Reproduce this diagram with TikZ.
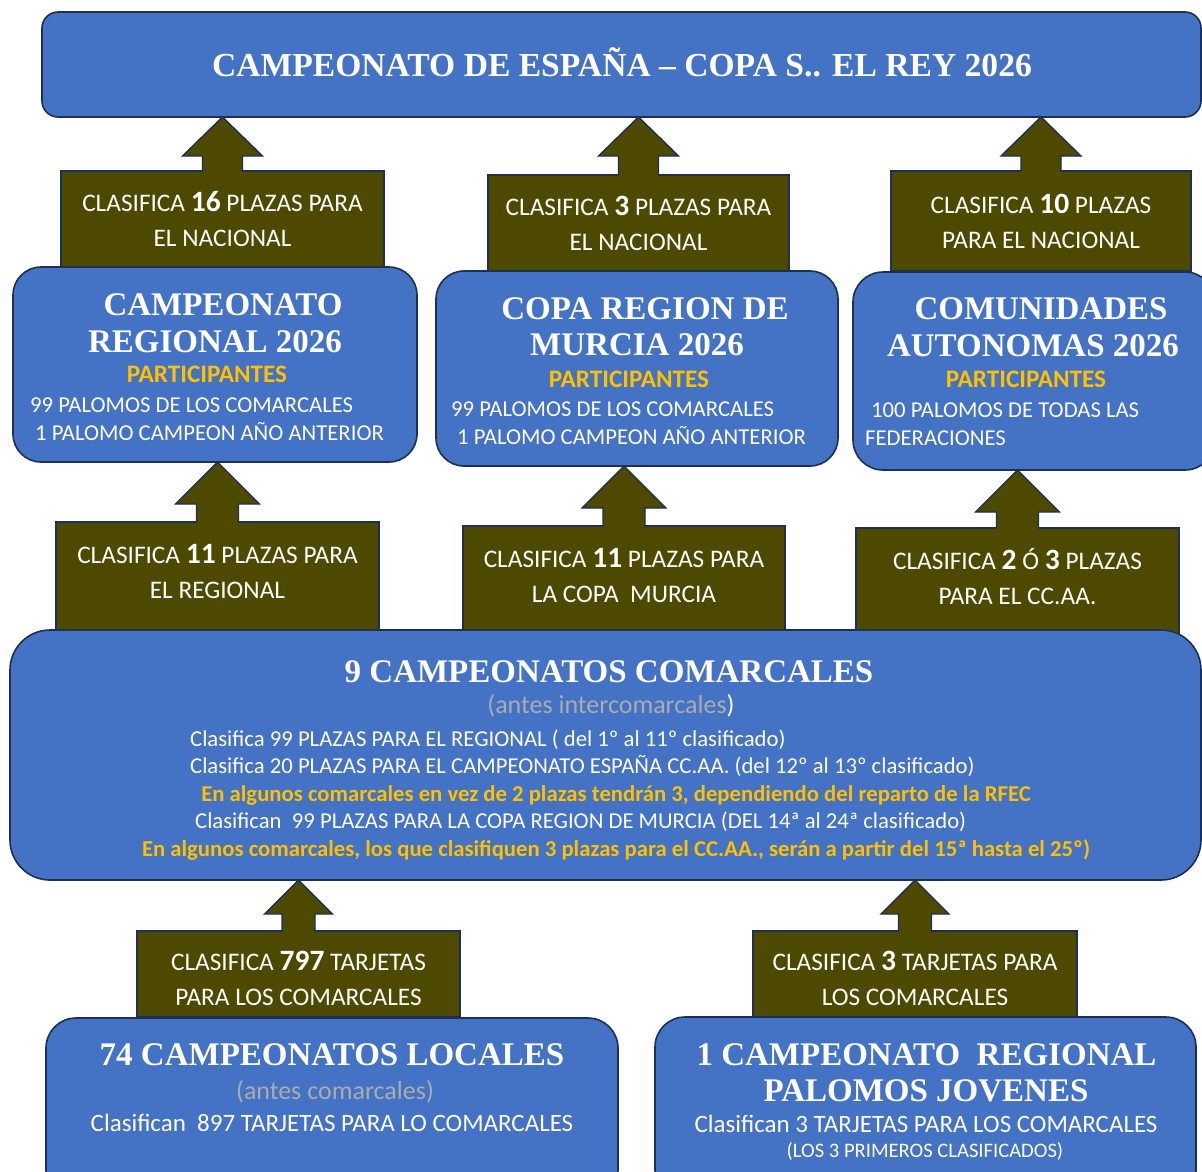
\documentclass[tikz,border=0pt]{standalone}
\usepackage{fontspec}
\setmainfont{Carlito}
\newfontfamily\serifbf{Liberation Serif}
\usetikzlibrary{calc}
\definecolor{azul}{RGB}{68,114,196}
\definecolor{marino}{RGB}{30,48,82}
\definecolor{oliva}{RGB}{77,74,0}
\definecolor{oro}{RGB}{255,192,0}
\definecolor{gris}{RGB}{172,172,172}
\newcommand{\tit}{\serifbf\bfseries\fontsize{33}{37}\selectfont}
\newcommand{\olv}{\fontsize{25.3}{35}\selectfont}
\newcommand{\nm}[1]{{\bfseries\fontsize{29.5}{29.5}\selectfont #1}}
\newcommand{\bx}{\fontsize{22.7}{26}\selectfont}
\newcommand{\bxg}{\fontsize{25}{28}\selectfont}
\newcommand{\lin}{\fontsize{22.7}{26}\selectfont}
\newcommand{\partic}{\textcolor{oro}{\bfseries\fontsize{25.2}{28}\selectfont PARTICIPANTES}}
% flecha: desde, hasta, media cabeza, alto cabeza, medio tallo
\newcommand{\flecha}[5]{%
  \path[flechaup] let \p1=(#1.north), \p2=(#2.south) in
    (\x1-#5pt,\y1-1pt) -- (\x1-#5pt,\y2-#4pt) -- (\x1-#3pt,\y2-#4pt) -- (\x1,\y2)
    -- (\x1+#3pt,\y2-#4pt) -- (\x1+#5pt,\y2-#4pt) -- (\x1+#5pt,\y1-1pt);}

\begin{document}
\begin{tikzpicture}[x=1pt,y=-1pt,
    azulbox/.style={draw=marino, line width=1.6pt, fill=azul, rounded corners=#1,
      inner sep=0pt, outer sep=0pt},
    azulbox/.default=28pt,
    olivbox/.style={draw=marino, line width=1.4pt, fill=oliva, inner sep=0pt,
      outer sep=0pt, text=white, align=center, font=\olv},
    flechaup/.style={draw=marino, line width=1.4pt, fill=oliva, line join=miter},
    txt/.style={text=white, inner sep=0pt, anchor=base}]
  \useasboundingbox (0,0) rectangle (1202,1171);

  % cajas verdes
  \node[olivbox, minimum width=323pt, minimum height=97pt] (o16) at (222.5,219.5)
    {CLASIFICA \nm{16} PLAZAS PARA\\EL NACIONAL};
  \node[olivbox, minimum width=301pt, minimum height=97pt] (o3) at (638.5,223.5)
    {CLASIFICA \nm{3} PLAZAS PARA\\EL NACIONAL};
  \node[olivbox, minimum width=300pt, minimum height=100pt] (o10) at (1041,221)
    {CLASIFICA \nm{10} PLAZAS\\PARA EL NACIONAL};
  \node[olivbox, text depth=12pt, minimum width=323pt, minimum height=111pt] (o11r) at (217.5,577.5)
    {CLASIFICA \nm{11} PLAZAS PARA\\EL REGIONAL};
  \node[olivbox, text depth=11pt, minimum width=322pt, minimum height=109pt] (o11m) at (624,580.5)
    {CLASIFICA \nm{11} PLAZAS PARA\\LA COPA\ \ MURCIA};
  \node[olivbox, text depth=12pt, minimum width=323pt, minimum height=108pt] (o23) at (1017.5,582)
    {CLASIFICA \nm{2} Ó \nm{3} PLAZAS\\PARA EL CC.AA.};
  \node[olivbox, text height=64pt, minimum width=323pt, minimum height=86pt] (o797) at (298.5,974)
    {CLASIFICA \nm{797} TARJETAS\\PARA LOS COMARCALES};
  \node[olivbox, text height=64pt, minimum width=324pt, minimum height=86pt] (o3t) at (915,974)
    {CLASIFICA \nm{3} TARJETAS PARA\\LOS COMARCALES};

  % cajas azules
  \node[azulbox=16pt, minimum width=1159pt, minimum height=105pt] (rey) at (621.5,64.5) {};
  \node[azulbox, minimum width=404pt, minimum height=195pt] (reg) at (215,364.5) {};
  \node[azulbox, minimum width=402pt, minimum height=195pt] (mur) at (637,368.5) {};
  \node[azulbox=30pt, minimum width=362pt, minimum height=198pt] (cca) at (1034,371) {};
  \node[azulbox=40pt, minimum width=1191pt, minimum height=250pt] (com) at (605.5,755) {};
  \node[azulbox=30pt, minimum width=572pt, minimum height=182pt] (loc) at (332,1109) {};
  \node[azulbox=30pt, minimum width=541pt, minimum height=183pt] (jov) at (925.5,1108.5) {};

  % flechas
  \flecha{o16}{rey}{40}{39}{20}
  \flecha{o3}{rey}{40}{39}{20}
  \flecha{o10}{rey}{40}{39}{20}
  \flecha{o11r}{reg}{42}{42}{21}
  \flecha{o11m}{mur}{42}{42}{21}
  \flecha{o23}{cca}{42}{42}{21}
  \flecha{o797}{com}{34}{34}{16.5}
  \flecha{o3t}{com}{34}{34}{16.5}

  % textos
  \node[txt] (trey) at (622,76) {\serifbf\bfseries\fontsize{33.6}{37}\selectfont CAMPEONATO DE ESPAÑA – COPA S.. EL REY 2026};

  \node[txt] (treg1) at (223,315) {\tit CAMPEONATO};
  \node[txt] (treg2) at (215,352) {\tit REGIONAL 2026};
  \node[txt] (treg3) at (207,382) {\partic};
  \node[txt, anchor=base west] (treg4) at (30,412) {\bx 99 PALOMOS DE LOS COMARCALES};
  \node[txt, anchor=base west] (treg5) at (35,440) {\bx 1 PALOMO CAMPEON AÑO ANTERIOR};

  \node[txt] (tmur1) at (645,319) {\tit COPA REGION DE};
  \node[txt] (tmur2) at (637,355) {\tit MURCIA 2026};
  \node[txt] (tmur3) at (629,387) {\partic};
  \node[txt, anchor=base west] (tmur4) at (451,416) {\bx 99 PALOMOS DE LOS COMARCALES};
  \node[txt, anchor=base west] (tmur5) at (457,444) {\bx 1 PALOMO CAMPEON AÑO ANTERIOR};

  \node[txt] (tcca1) at (1041,319) {\tit COMUNIDADES};
  \node[txt] (tcca2) at (1033,356) {\tit AUTONOMAS 2026};
  \node[txt] (tcca3) at (1026,387) {\partic};
  \node[txt, anchor=base west] (tcca4) at (871,417) {\bx 100 PALOMOS DE TODAS LAS};
  \node[txt, anchor=base west] (tcca5) at (865,445) {\bx FEDERACIONES};

  \node[txt] (tcom1) at (609,682) {\tit 9 CAMPEONATOS COMARCALES};
  \node[txt] (tcom2) at (611,713)
    {\fontsize{26}{28}\selectfont\textcolor{gris}{(antes intercomarcales}\textcolor{white}{)}};
  \node[txt, anchor=base west] (tcom3) at (190,746)
    {\lin Clasifica 99 PLAZAS PARA EL REGIONAL ( del 1º al 11º clasificado)};
  \node[txt, anchor=base west] (tcom4) at (190,773)
    {\lin Clasifica 20 PLAZAS PARA EL CAMPEONATO ESPAÑA CC.AA. (del 12º al 13º clasificado)};
  \node[txt, text=oro] (tcom5) at (616,801)
    {\lin\bfseries En algunos comarcales en vez de 2 plazas tendrán 3, dependiendo del reparto de la RFEC};
  \node[txt, anchor=base west] (tcom6) at (195,828)
    {\lin Clasifican\ \ 99 PLAZAS PARA LA COPA REGION DE MURCIA (DEL 14ª al 24ª clasificado)};
  \node[txt, text=oro] (tcom7) at (616,856)
    {\lin\bfseries En algunos comarcales, los que clasifiquen 3 plazas para el CC.AA., serán a partir del 15ª hasta el 25º)};

  \node[txt] (tloc1) at (332,1065) {\tit 74 CAMPEONATOS LOCALES};
  \node[txt, text=gris] (tloc2) at (335,1099) {\fontsize{26}{28}\selectfont (antes comarcales)};
  \node[txt] (tloc3) at (332,1131) {\bxg Clasifican\ \ 897 TARJETAS PARA LO COMARCALES};

  \node[txt] (tjov1) at (926.5,1065) {\tit 1 CAMPEONATO\ \ REGIONAL};
  \node[txt] (tjov2) at (926,1101) {\tit PALOMOS JOVENES};
  \node[txt] (tjov3) at (926,1132) {\bxg Clasifican 3 TARJETAS PARA LOS COMARCALES};
  \node[txt] (tjov4) at (925,1157) {\fontsize{20.6}{22}\selectfont (LOS 3 PRIMEROS CLASIFICADOS)};
\end{tikzpicture}
\end{document}
